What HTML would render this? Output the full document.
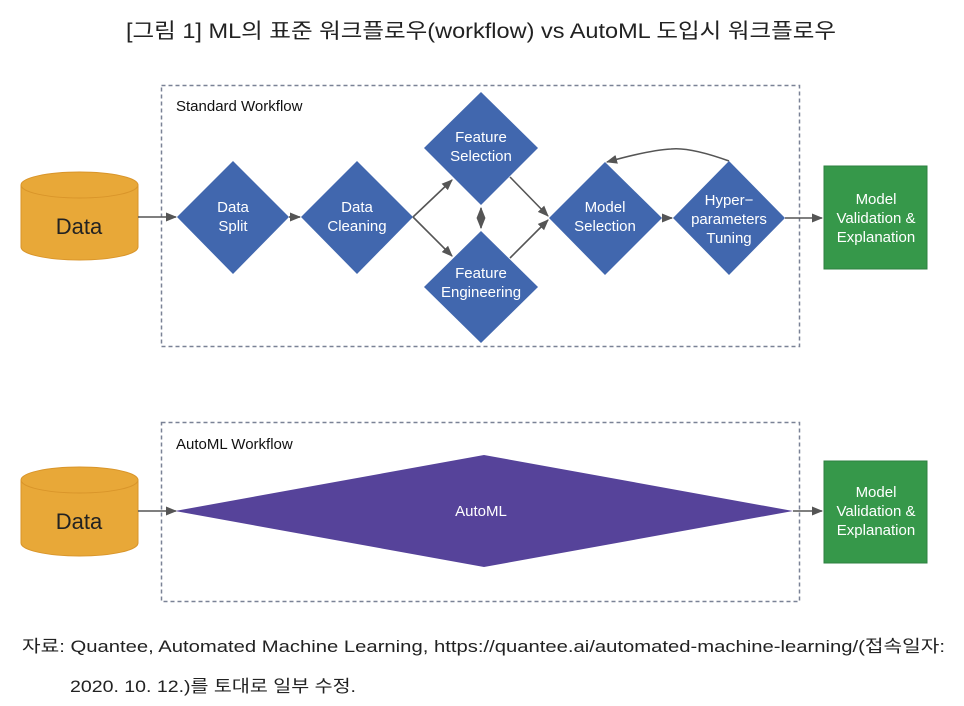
<!DOCTYPE html>
<html><head><meta charset="utf-8"><style>
body{margin:0;background:#fff}
svg{display:block}
text{font-family:"Liberation Sans","Noto Sans CJK KR",sans-serif}
</style></head><body>
<svg width="964" height="706" viewBox="0 0 964 706" xmlns="http://www.w3.org/2000/svg">
<defs>
<marker id="a" viewBox="0 0 10 10" refX="9" refY="5" markerWidth="7" markerHeight="7" orient="auto-start-reverse"><path d="M0,1 L10,5 L0,9 z" fill="#555"/></marker>
</defs>
<text x="481" y="38" font-size="21" text-anchor="middle" fill="#222" textLength="710" lengthAdjust="spacingAndGlyphs">[그림 1] ML의 표준 워크플로우(workflow) vs AutoML 도입시 워크플로우</text>

<!-- standard box -->
<rect x="161.5" y="85.5" width="638" height="261" fill="none" stroke="#7a8296" stroke-width="1.5" stroke-dasharray="4,3"/>
<text x="176" y="111" font-size="15" fill="#111">Standard Workflow</text>

<!-- data cylinder 1 -->
<path d="M21,185 L21,247 A58.5,13 0 0 0 138,247 L138,185" fill="#e8a838" stroke="#d9952a"/>
<ellipse cx="79.5" cy="185" rx="58.5" ry="13" fill="#e8a838" stroke="#d9952a"/>
<text x="79" y="234" font-size="22" text-anchor="middle" fill="#222">Data</text>

<g stroke="#555" stroke-width="1.6" fill="none">
<line x1="138" y1="217" x2="176" y2="217" marker-end="url(#a)"/>
<line x1="289" y1="217" x2="300" y2="217" marker-end="url(#a)"/>
<line x1="413" y1="217" x2="452" y2="180" marker-end="url(#a)"/>
<line x1="413" y1="217" x2="452" y2="256" marker-end="url(#a)"/>
<line x1="481" y1="208" x2="481" y2="228" marker-start="url(#a)" marker-end="url(#a)"/>
<line x1="510" y1="177" x2="548" y2="216" marker-end="url(#a)"/>
<line x1="510" y1="258" x2="548" y2="220" marker-end="url(#a)"/>
<line x1="662" y1="218" x2="672" y2="218" marker-end="url(#a)"/>
<path d="M729,161 Q690,147 671,149 Q650,150 607,162" marker-end="url(#a)"/>
<line x1="785" y1="218" x2="822" y2="218" marker-end="url(#a)"/>
</g>

<g fill="#4167ae">
<polygon points="233,161 289,217 233,274 177,217"/>
<polygon points="357,161 413,217 357,274 301,217"/>
<polygon points="481,92 538,148 481,205 424,148"/>
<polygon points="481,231 538,287 481,343 424,287"/>
<polygon points="605,162 662,218 605,275 549,218"/>
<polygon points="729,161 785,218 729,275 673,218"/>
</g>
<g fill="#fff" font-size="15" text-anchor="middle">
<text x="233" y="212">Data</text><text x="233" y="231">Split</text>
<text x="357" y="212">Data</text><text x="357" y="231">Cleaning</text>
<text x="481" y="142">Feature</text><text x="481" y="161">Selection</text>
<text x="481" y="278">Feature</text><text x="481" y="297">Engineering</text>
<text x="605" y="212">Model</text><text x="605" y="231">Selection</text>
<text x="729" y="205">Hyper−</text><text x="729" y="224">parameters</text><text x="729" y="243">Tuning</text>
</g>

<rect x="824" y="166" width="103" height="103" fill="#36984a" stroke="#2d8040"/>
<g fill="#fff" font-size="15" text-anchor="middle">
<text x="876" y="204">Model</text><text x="876" y="223">Validation &amp;</text><text x="876" y="242">Explanation</text>
</g>

<!-- automl box -->
<rect x="161.5" y="422.5" width="638" height="179" fill="none" stroke="#7a8296" stroke-width="1.5" stroke-dasharray="4,3"/>
<text x="176" y="449" font-size="15" fill="#111">AutoML Workflow</text>

<path d="M21,480 L21,543 A58.5,13 0 0 0 138,543 L138,480" fill="#e8a838" stroke="#d9952a"/>
<ellipse cx="79.5" cy="480" rx="58.5" ry="13" fill="#e8a838" stroke="#d9952a"/>
<text x="79" y="529" font-size="22" text-anchor="middle" fill="#222">Data</text>

<polygon points="175,511 484,455 793,511 484,567" fill="#56439a"/>
<text x="481" y="516" font-size="15" fill="#fff" text-anchor="middle">AutoML</text>
<g stroke="#555" stroke-width="1.6" fill="none">
<line x1="138" y1="511" x2="176" y2="511" marker-end="url(#a)"/>
<line x1="793" y1="511" x2="822" y2="511" marker-end="url(#a)"/>
</g>
<rect x="824" y="461" width="103" height="102" fill="#36984a" stroke="#2d8040"/>
<g fill="#fff" font-size="15" text-anchor="middle">
<text x="876" y="497">Model</text><text x="876" y="516">Validation &amp;</text><text x="876" y="535">Explanation</text>
</g>

<text x="22" y="652" font-size="17" fill="#222" textLength="923" lengthAdjust="spacingAndGlyphs">자료: Quantee, Automated Machine Learning, https://quantee.ai/automated-machine-learning/(접속일자:</text>
<text x="70" y="692" font-size="17" fill="#222" textLength="286" lengthAdjust="spacingAndGlyphs">2020. 10. 12.)를 토대로 일부 수정.</text>
</svg>
</body></html>
